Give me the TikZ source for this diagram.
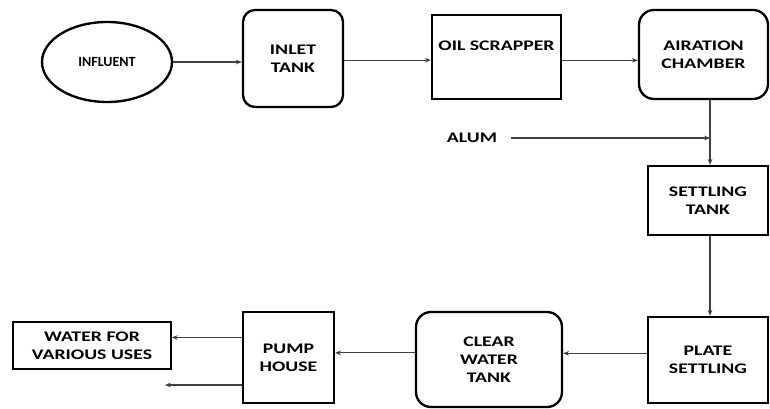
\documentclass[tikz,border=0pt]{standalone}
\usepackage{fontspec}
\setmainfont{Carlito}
\newfontfamily\widefont{Carlito}[FakeStretch=1.35]
\usepackage{tikz}
\usetikzlibrary{shapes.geometric, arrows.meta, positioning, calc}

\begin{document}
\begin{tikzpicture}[
        source/.style={ellipse, draw, line width=2pt, minimum width=3.9cm, minimum height=2.4cm, inner sep=0pt, font=\fontsize{12}{14.5}\selectfont\bfseries},
        unit/.style={rectangle, draw, line width=2pt, align=center, inner sep=2pt, font=\widefont\fontsize{12.5}{15.5}\selectfont\bfseries},
        tank/.style={unit, rounded corners=0.4cm},
        flow/.style={-{Stealth[length=5pt, width=4pt]}, line width=1pt, draw=black!75},
        feed/.style={line width=1pt, draw=black!75}
    ]
    \useasboundingbox (0,0) rectangle (23.1,12.24);

    % Top row
    \node[source] (influent) at (3.21, 10.38) {INFLUENT};
    \node[tank, minimum width=3cm, minimum height=2.91cm, rounded corners=0.36cm] (inlet) at (8.79, 10.485) {INLET\\TANK};
    \node[unit, minimum width=3.87cm, minimum height=2.52cm,
          label={[anchor=north, yshift=-0.7cm, font=\widefont\fontsize{12.5}{15.5}\selectfont\bfseries]north:OIL SCRAPPER}] (scrapper) at (14.895, 10.53) {};
    \node[tank, minimum width=3.87cm, minimum height=2.67cm, rounded corners=0.45cm] (airation) at (21.105, 10.605) {AIRATION\\CHAMBER};

    % Right column
    \node[font=\widefont\fontsize{12.5}{15.5}\selectfont\bfseries] (alum) at (14.16, 8.1) {ALUM};
    \coordinate (alumjoin) at (21.3, 8.1);
    \node[unit, minimum width=3.6cm, minimum height=2.07cm] (settling) at (21.24, 6.225) {SETTLING\\TANK};
    \node[unit, minimum width=3.6cm, minimum height=2.58cm] (plate) at (21.24, 1.44) {PLATE\\SETTLING};

    % Bottom row
    \node[tank, minimum width=4.38cm, minimum height=2.85cm, rounded corners=0.45cm] (clear) at (14.67, 1.455) {CLEAR\\WATER\\TANK};
    \node[unit, minimum width=2.73cm, minimum height=2.73cm] (pump) at (8.655, 1.515) {PUMP\\HOUSE};
    \node[unit, line width=1.4pt, minimum width=4.74cm, minimum height=1.41cm] (uses) at (2.76, 1.875) {WATER FOR\\VARIOUS USES};
    \coordinate (spare) at (4.95, 0.69);

    % Flow
    \draw[flow] (influent.east) -- (inlet.west |- influent.east);
    \draw[flow] ([yshift=-0.05cm]inlet.east) -- ([yshift=-0.05cm]inlet.east -| scrapper.west);
    \draw[flow] ([yshift=-0.1cm]scrapper.east) -- ([yshift=-0.1cm]scrapper.east -| airation.west);
    \draw[feed] (airation.south -| alumjoin) -- (alumjoin);
    \draw[flow] (alum.east) ++(0.3,0) -- (alumjoin);
    \draw[flow] (alumjoin) -- (settling.north -| alumjoin);
    \draw[flow] (settling.south -| alumjoin) -- (plate.north -| alumjoin);
    \draw[flow] ([yshift=0.2cm]plate.west) -- ([yshift=0.2cm]plate.west -| clear.east);
    \draw[flow] ([yshift=0.2cm]clear.west) -- ([yshift=0.2cm]clear.west -| pump.east);
    \draw[flow] ([yshift=0.6cm]pump.west) coordinate (pumpout) -- (pumpout -| uses.east);
    \draw[flow] (pump.west |- spare) -- (spare);

\end{tikzpicture}
\end{document}
